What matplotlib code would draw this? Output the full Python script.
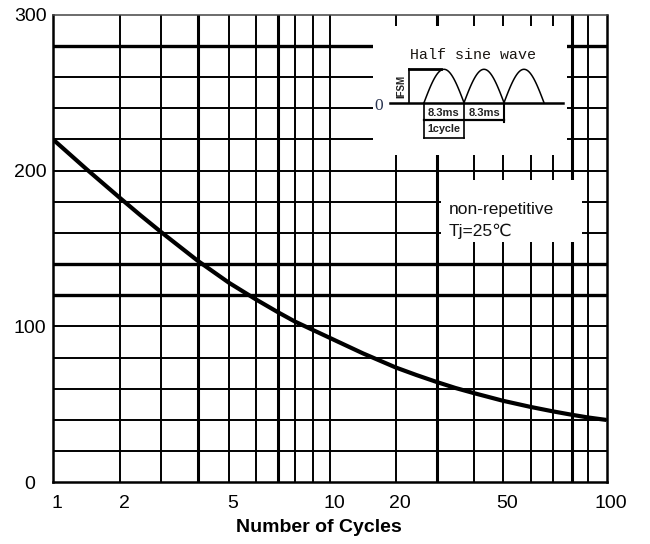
import numpy as np
import matplotlib
matplotlib.use("Agg")
import matplotlib.pyplot as plt
from matplotlib.patches import Rectangle
from matplotlib.ticker import FixedLocator, NullLocator
from matplotlib.transforms import ScaledTranslation

# ---------------- data ----------------
cycles = [1, 1.5, 2, 2.5, 3, 3.5, 4, 5, 6, 7, 8, 9, 10, 15, 20, 25, 30, 35, 40,
          50, 60, 70, 80, 90, 100]
ifsm = [220, 200.9, 182.4, 171.3, 160.6, 151.3, 142, 128, 117.3, 109.1, 103.1, 97.7, 92.6,
        82.7, 73.6, 68.8, 64.3, 60.5, 57.2, 52.3, 48.3, 45.5, 43.3, 41.6, 40]
x_tick_values = [1, 2, 5, 10, 20, 50, 100]
x_tick_labels = ['1', '2', '5', '10', '20', '50', '100']
y_tick_values = [0, 100, 200, 300]
y_tick_labels = ['0', '100', '200', '300']
x_grid_values = [1, 2, 3, 4, 5, 6, 7, 8, 9, 10, 20, 30, 40, 50, 60, 70, 80, 90, 100]
y_grid_values = list(range(0, 301, 20))
x_label = 'Number of Cycles'
note_lines = ['non-repetitive', 'Tj=25\u2103']
inset_title = 'Half sine wave'

# ---------------- layout ----------------
W, H = 650, 544
AX_L, AX_R, AX_T, AX_B = 53.0, 606.5, 14.7, 482.3
# pixel positions of the (hand drawn) logarithmic grid lines of the original sheet
grid_px = [53, 120, 161, 198, 229, 256, 278, 295, 313, 330,
           396, 437, 474, 503, 531, 553, 572, 588, 606.5]
grid_frac = [(p - AX_L) / (AX_R - AX_L) for p in grid_px]


def fwd(x):
    return np.interp(np.asarray(x, dtype=float), x_grid_values, grid_frac)


def inv(f):
    return np.interp(np.asarray(f, dtype=float), grid_frac, x_grid_values)


def P(px, py):
    px = np.asarray(px, dtype=float)
    py = np.asarray(py, dtype=float)
    return (px - AX_L) / (AX_R - AX_L), (AX_B - py) / (AX_B - AX_T)


plt.rcParams['font.family'] = ['Liberation Sans', 'DejaVu Sans']

fig = plt.figure(figsize=(W / 100, H / 100), dpi=100)
ax = fig.add_axes([AX_L / W, 1 - AX_B / H, (AX_R - AX_L) / W, (AX_B - AX_T) / H])
ax.set_xscale('function', functions=(fwd, inv))
ax.set_xlim(1, 100)
ax.set_ylim(0, 300)

# grid
thick_x = {4, 7, 30, 80}
thick_y = {120, 140, 280}
for v in x_grid_values[1:-1]:
    ax.axvline(v, color='black', lw=2.2 if v in thick_x else 1.4, zorder=1)
for v in y_grid_values[1:-1]:
    ax.axhline(v, color='black', lw=2.4 if v in thick_y else 1.4, zorder=1)

# white boxes that hide the grid
for (x0, y0, x1, y1) in [(373, 26, 567, 155), (441, 180, 582, 242)]:
    (ax0, ay1), (ax1, ay0) = P(x0, y0), P(x1, y1)
    ax.add_patch(Rectangle((ax0, ay0), ax1 - ax0, ay1 - ay0, transform=ax.transAxes,
                           facecolor='white', edgecolor='none', zorder=2))

# curve
ax.plot(cycles, ifsm, color='black', lw=3.0, zorder=3, solid_capstyle='butt',
        solid_joinstyle='round')

# ticks
ax.xaxis.set_major_locator(FixedLocator(x_tick_values))
ax.xaxis.set_minor_locator(NullLocator())
ax.set_xticklabels(x_tick_labels)
ax.set_yticks(y_tick_values)
ax.set_yticklabels(y_tick_labels)
ax.tick_params(axis='both', length=0, labelsize=14, colors='black')
ax.tick_params(axis='x', pad=9.5)
ax.tick_params(axis='y', pad=16.5)
for lab in ax.get_yticklabels():
    lab.set_ha('center')
shift = ScaledTranslation(4 / 100, 0, fig.dpi_scale_trans)
for lab in ax.get_xticklabels():
    lab.set_transform(lab.get_transform() + shift)

ax.set_xlabel(x_label, fontsize=14, fontweight='bold')
ax.xaxis.set_label_coords(*P(318.5, 527))
ax.xaxis.label.set_va('center')

for side in ['left', 'bottom', 'right']:
    ax.spines[side].set_linewidth(1.8)
    ax.spines[side].set_color('black')
ax.spines['top'].set_linewidth(1.1)
ax.spines['top'].set_color('#444444')
for s in ax.spines.values():
    s.set_zorder(5)

# ---------------- inset: half sine wave ----------------
tr = ax.transAxes
ax.text(*P(473.5, 55), inset_title, transform=tr, ha='center', va='center',
        fontsize=10.8, family=['Liberation Mono', 'DejaVu Sans Mono'], color='#1a1612',
        zorder=6)
zero_y = 102.7
ax.plot(*P([390, 563], [zero_y, zero_y]), transform=tr, color='black', lw=1.8, zorder=6, clip_on=False)
ax.text(*P(379, 106), '0', transform=tr, ha='center', va='center', fontsize=12.5,
        family=['Liberation Serif', 'DejaVu Serif'], color='#2a3450', zorder=6)
t = np.linspace(0, np.pi, 80)
for i in range(3):
    x0 = 424 + 40 * i
    ax.plot(*P(x0 + 40 * t / np.pi, zero_y - 33.4 * np.sin(t)), transform=tr,
            color='black', lw=1.1, zorder=6)
# IFSM marker
ax.plot(*P([409, 409], [69.3, zero_y]), transform=tr, color='black', lw=1.2, zorder=6)
ax.plot(*P([409, 441], [69.3, 69.3]), transform=tr, color='black', lw=2.0, zorder=6)
ax.text(*P(401.5, 86), 'IFSM', transform=tr, ha='center', va='center', rotation=90,
        fontsize=7, fontweight='bold', color='#222222', zorder=6)
# dimension lines
ax.plot(*P([424, 424], [zero_y, 138.3]), transform=tr, color='black', lw=1.2, zorder=6)
ax.plot(*P([464, 464], [zero_y, 138.3]), transform=tr, color='black', lw=1.2, zorder=6)
ax.plot(*P([504, 504], [zero_y, 122]), transform=tr, color='black', lw=1.5, zorder=6)
ax.plot(*P([424, 504], [120, 120]), transform=tr, color='black', lw=1.6, zorder=6)
ax.plot(*P([424, 464], [138.3, 138.3]), transform=tr, color='black', lw=1.2, zorder=6)
ax.text(*P(444, 112.5), '8.3ms', transform=tr, ha='center', va='center',
        fontsize=8, fontweight='bold', color='#222222', zorder=6)
ax.text(*P(484, 112.5), '8.3ms', transform=tr, ha='center', va='center',
        fontsize=8, fontweight='bold', color='#222222', zorder=6)
ax.text(*P(444, 129.5), '1cycle', transform=tr, ha='center', va='center',
        fontsize=7.8, fontweight='bold', color='#222222', zorder=6)

# ---------------- note ----------------
ax.text(*P(449, 210), note_lines[0], transform=tr, ha='left', va='center',
        fontsize=12.5, color='#111111', zorder=6)
ax.text(*P(449, 231), note_lines[1], transform=tr, ha='left', va='center',
        fontsize=12.5, color='#111111', zorder=6)

fig.savefig('out.png', dpi=100)
